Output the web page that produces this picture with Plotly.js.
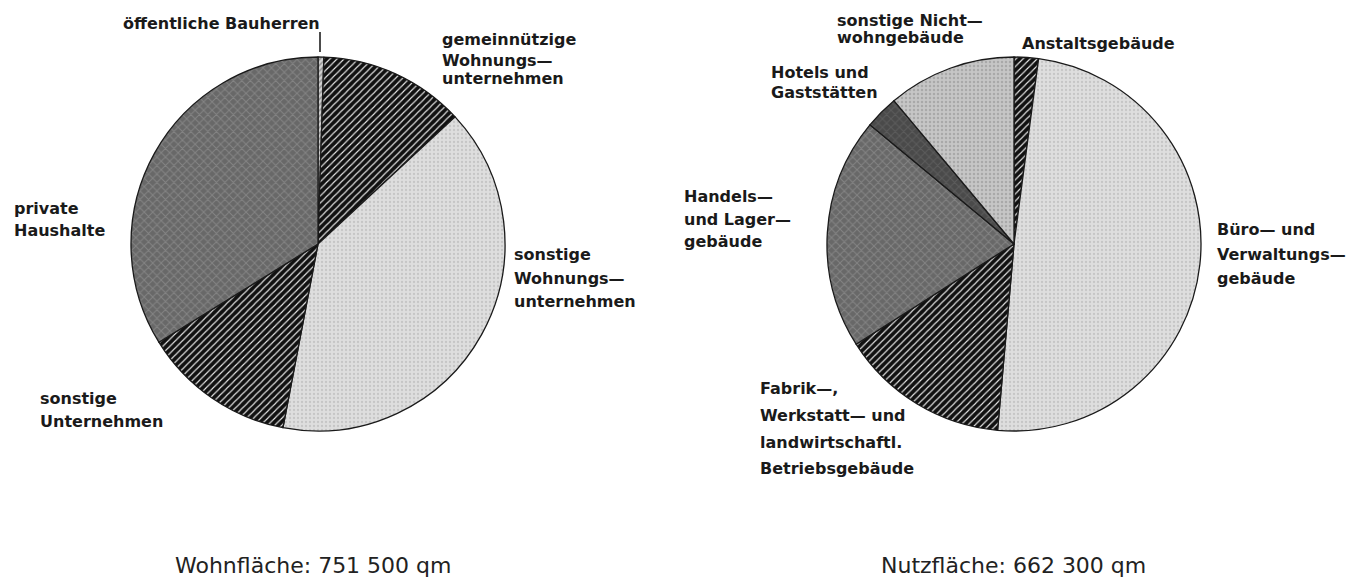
<!DOCTYPE html>
<html>
<head>
<meta charset="utf-8">
<script src="https://cdn.plot.ly/plotly-3.0.1.min.js"></script>
<style>
  html, body { margin: 0; padding: 0; background: #ffffff; }
  #chart { width: 1350px; height: 582px; }
</style>
</head>
<body>
<div id="chart"></div>
<script>
// ---------- DATA (in % of area) ----------
const wohnCategories = [
  'öffentliche Bauherren',
  'gemeinnützige Wohnungsunternehmen',
  'sonstige Wohnungsunternehmen',
  'sonstige Unternehmen',
  'private Haushalte'
];
const wohnValues = [0.5, 12.6, 39.9, 13.2, 33.8];
const wohnLabelLines = [
  ['öffentliche Bauherren'],
  ['gemeinnützige', 'Wohnungs—', 'unternehmen'],
  ['sonstige', 'Wohnungs—', 'unternehmen'],
  ['sonstige', 'Unternehmen'],
  ['private', 'Haushalte']
];
const wohnCaption = 'Wohnfläche: 751 500 qm';

const nutzCategories = [
  'Anstaltsgebäude',
  'Büro- und Verwaltungsgebäude',
  'Fabrik-, Werkstatt- und landwirtschaftl. Betriebsgebäude',
  'Handels- und Lagergebäude',
  'Hotels und Gaststätten',
  'sonstige Nichtwohngebäude'
];
const nutzValues = [2.1, 49.3, 14.6, 20.0, 2.9, 11.1];
const nutzLabelLines = [
  ['Anstaltsgebäude'],
  ['Büro— und', 'Verwaltungs—', 'gebäude'],
  ['Fabrik—,', 'Werkstatt— und', 'landwirtschaftl.', 'Betriebsgebäude'],
  ['Handels—', 'und Lager—', 'gebäude'],
  ['Hotels und', 'Gaststätten'],
  ['sonstige Nicht—', 'wohngebäude']
];
const nutzCaption = 'Nutzfläche: 662 300 qm';

// ---------- LAYOUT / STYLE ----------
const W = 1350, H = 582;
const px = x => x / W;
const py = y => 1 - y / H;

function domainFor(cx, cy, r) {
  return { x: [px(cx - r), px(cx + r)], y: [py(cy + r), py(cy - r)] };
}

const hatchDark = { shape: '/', bg: '#111111', fg: '#e8e8e8', size: 5, sol: 0.22 };
const light     = { shape: '.', bg: '#dedede', fg: '#c6c6c6', size: 4, sol: 0.25 };
const darkGray  = { shape: 'x', bg: '#686868', fg: '#848484', size: 6, sol: 0.3 };

const wohnStyle = [
  { shape: '/', bg: '#d2d2d2', fg: '#8a8a8a', size: 4, sol: 0.35 },
  hatchDark, light, hatchDark, darkGray
];
const nutzStyle = [
  hatchDark, light, hatchDark, darkGray,
  { shape: 'x', bg: '#4a4a4a', fg: '#5c5c5c', size: 6, sol: 0.3 },
  { shape: '.', bg: '#c6c6c6', fg: '#a9a9a9', size: 4, sol: 0.3 }
];

function pieTrace(labels, values, style, dom) {
  return {
    type: 'pie',
    labels: labels,
    values: values,
    sort: false,
    direction: 'clockwise',
    rotation: 0,
    textinfo: 'none',
    hoverinfo: 'label+percent',
    showlegend: false,
    automargin: false,
    domain: dom,
    marker: {
      colors: style.map(s => s.bg),
      line: { color: '#1a1a1a', width: 1.3 },
      pattern: {
        shape: style.map(s => s.shape),
        bgcolor: style.map(s => s.bg),
        fgcolor: style.map(s => s.fg),
        size: style.map(s => s.size),
        solidity: style.map(s => s.sol),
        fillmode: 'replace'
      }
    }
  };
}

const data = [
  pieTrace(wohnCategories, wohnValues, wohnStyle, domainFor(318, 244, 187)),
  pieTrace(nutzCategories, nutzValues, nutzStyle, domainFor(1014, 244, 187))
];

// label placement (pixel positions of each text line)
const wohnLabelPos = [
  { x: 322, ys: [24], anchor: 'right' },
  { x: 440, ys: [40, 61, 79], anchor: 'left' },
  { x: 512, ys: [254, 278, 301], anchor: 'left' },
  { x: 38,  ys: [398, 421], anchor: 'left' },
  { x: 12,  ys: [208, 231], anchor: 'left' }
];
const nutzLabelPos = [
  { x: 1020, ys: [44], anchor: 'left' },
  { x: 1215, ys: [230, 254, 278], anchor: 'left' },
  { x: 758,  ys: [388, 415, 442, 468], anchor: 'left' },
  { x: 682,  ys: [196, 219, 241], anchor: 'left' },
  { x: 769,  ys: [72, 92], anchor: 'left' },
  { x: 835,  ys: [21, 38], anchor: 'left' }
];

const labelFont = { family: 'DejaVu Sans', size: 16, color: '#1a1a1a', weight: 'bold' };
const annotations = [];
function addLabels(lines, pos) {
  lines.forEach((ls, i) => {
    ls.forEach((t, j) => {
      annotations.push({
        xref: 'paper', yref: 'paper',
        x: px(pos[i].x), y: py(pos[i].ys[j]),
        xanchor: pos[i].anchor, yanchor: 'middle',
        text: t, showarrow: false,
        font: labelFont
      });
    });
  });
}
addLabels(wohnLabelLines, wohnLabelPos);
addLabels(nutzLabelLines, nutzLabelPos);

const captionFont = { family: 'DejaVu Sans', size: 22, color: '#222222' };
annotations.push({
  xref: 'paper', yref: 'paper', x: px(313), y: py(565),
  xanchor: 'center', yanchor: 'middle', text: wohnCaption,
  showarrow: false, font: captionFont
});
annotations.push({
  xref: 'paper', yref: 'paper', x: px(1014), y: py(565),
  xanchor: 'center', yanchor: 'middle', text: nutzCaption,
  showarrow: false, font: captionFont
});

const layout = {
  width: W, height: H,
  margin: { l: 0, r: 0, t: 0, b: 0 },
  paper_bgcolor: '#ffffff',
  plot_bgcolor: '#ffffff',
  showlegend: false,
  annotations: annotations,
  shapes: [{
    type: 'line', xref: 'paper', yref: 'paper',
    x0: px(320), x1: px(320), y0: py(32), y1: py(52),
    line: { color: '#111111', width: 1.5 }
  }]
};

Plotly.newPlot('chart', data, layout, { displayModeBar: false, staticPlot: true });
</script>
</body>
</html>
